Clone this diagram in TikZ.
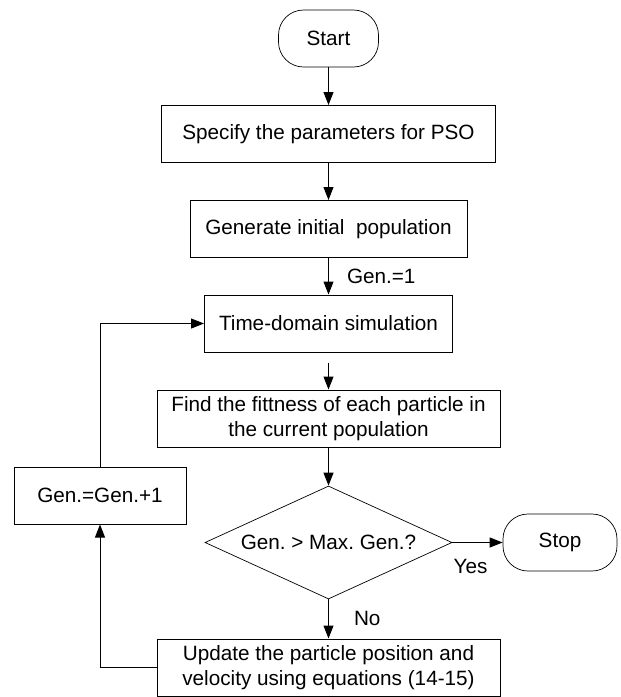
\documentclass[tikz,border=0pt]{standalone}
\usepackage{fontspec}
\setmainfont{Liberation Sans}
\usetikzlibrary{shapes.geometric,arrows.meta,calc}
\begin{document}
\begin{tikzpicture}[x=1pt,y=-1pt,
  every node/.style={font=\fontsize{20.7}{25}\selectfont\frenchspacing, inner sep=0pt, text=black},
  proc/.style={draw, line width=1pt, minimum height=57pt, align=center},
  term/.style={draw, line width=0.7pt, rounded corners=25pt, minimum height=57pt},
  dec/.style={draw, line width=0.7pt, diamond, aspect=2.19, minimum width=247pt, minimum height=113pt},
  arr/.style={line width=1pt, -{Triangle[length=13pt,width=10pt]}},
  lbl/.style={inner sep=0pt}
]
\useasboundingbox (0,0) rectangle (621,697);

\node[term, minimum width=100pt] (start) at (328.5,38.5) {Start};
\node[proc, minimum width=334pt] (spec) at (328.5,134) {Specify the parameters for PSO};
\node[proc, minimum width=277pt] (gen0) at (328.5,229) {Generate initial\ \ population};
\node[proc, minimum width=248pt] (td) at (328.5,323.5) {Time-domain simulation};
\node[proc, minimum width=343pt] (fit) at (328.5,418.5) {Find the fittness of each particle in\\the current population};
\node[dec] (dec) at (328.5,542.5) {Gen. > Max. Gen.?};
\node[term, minimum width=114pt] (stop) at (560,542.5) {Stop};
\node[proc, minimum width=172pt] (inc) at (100,495.5) {Gen.=Gen.+1};
\node[proc, minimum width=343pt] (upd) at (328.5,667.5) {Update the particle position and\\velocity using equations (14-15)};

\coordinate (tdgap) at ($(td.south)+(0,10)$);

\draw[arr] (start) -- (spec);
\draw[arr] (spec) -- (gen0);
\draw[arr] (gen0) -- node[lbl, anchor=west, xshift=18pt] {Gen.=1} (td);
\draw[arr] (tdgap) -- (fit);
\draw[arr] (fit) -- (dec);
\draw[arr] (dec) -- node[lbl, xshift=-7pt, yshift=-24pt] {Yes} (stop);
\draw[arr] (dec) -- node[lbl, anchor=west, xshift=25pt] {No} (upd);
\draw[arr] (upd.west) -| (inc.south);
\draw[arr] (inc.north) |- (td.west);
\end{tikzpicture}
\end{document}
